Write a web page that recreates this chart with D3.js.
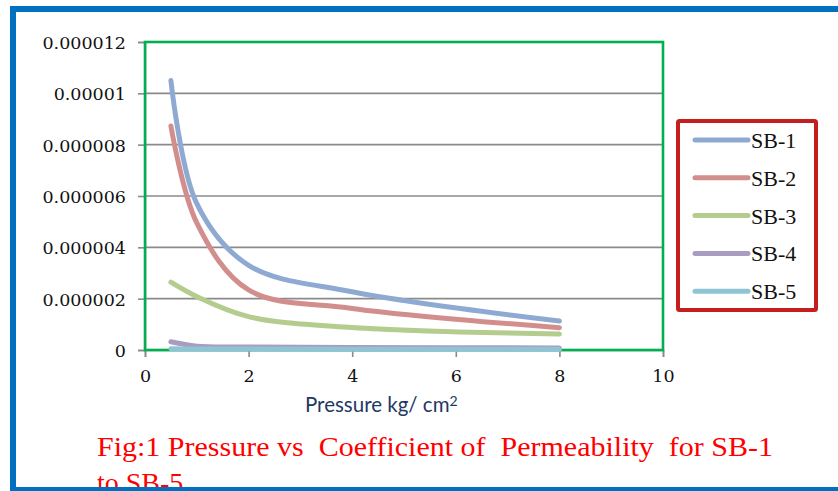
<!DOCTYPE html>
<html>
<head>
<meta charset="utf-8">
<script src="https://cdn.jsdelivr.net/npm/d3@7"></script>
<style>
    html, body { margin: 0; padding: 0; background: #ffffff; overflow: hidden; }
</style>
</head>
<body>
<div id="canvas"></div>
<script>
"use strict"

/* Chart data */
let pressure = [0.5, 1, 2, 4, 8];

let seriesNames = ["SB-1", "SB-2", "SB-3", "SB-4", "SB-5"];
let sb1 = [1.05e-5, 5.7e-6, 3.3e-6, 2.27e-6, 1.13e-6];
let sb2 = [8.73e-6, 4.95e-6, 2.34e-6, 1.62e-6, 0.87e-6];
let sb3 = [2.64e-6, 2.08e-6, 1.3e-6, 0.88e-6, 0.62e-6];
let sb4 = [0.32e-6, 0.15e-6, 0.12e-6, 0.1e-6, 0.08e-6];
let sb5 = [0.05e-6, 0.04e-6, 0.035e-6, 0.03e-6, 0.03e-6];

let xTicks = [0, 2, 4, 6, 8, 10];
let yTicks = [0, 0.000002, 0.000004, 0.000006, 0.000008, 0.00001, 0.000012];
let yTickLabels = ["0", "0.000002", "0.000004", "0.000006", "0.000008", "0.00001", "0.000012"];

let seriesColors = ["#8eaad2", "#d28e8c", "#b5cc8f", "#a99cc0", "#8ec4d4"];

/* Layout */
let svgWidth = 838;
let svgHeight = 491;

let plot = {
    left: 145,
    right: 663,
    top: 42,
    bottom: 350
};

let svg = d3.select("#canvas")
    .append("svg")
    .attr("width", svgWidth)
    .attr("height", svgHeight);

svg.append("rect")
    .attr("width", svgWidth)
    .attr("height", svgHeight)
    .attr("fill", "#ffffff");

let xScale = d3.scaleLinear()
    .domain([0, 10])
    .range([plot.left, plot.right]);

let yScale = d3.scaleLinear()
    .domain([0, 0.000012])
    .range([plot.bottom, plot.top]);

// horizontal gridlines
svg.append("g")
    .selectAll("line")
    .data(yTicks.slice(1))
    .join("line")
    .attr("x1", plot.left)
    .attr("x2", plot.right)
    .attr("y1", function(d) { return yScale(d); })
    .attr("y2", function(d) { return yScale(d); })
    .attr("stroke", "#8a8a8a")
    .attr("stroke-width", 1.6);

// Y axis (ticks to the left)
let yAxis = d3.axisLeft(yScale)
    .tickValues(yTicks)
    .tickSize(7)
    .tickPadding(12)
    .tickFormat(function(d, i) { return yTickLabels[i]; });

let yAxisG = svg.append("g")
    .attr("transform", "translate(" + plot.left + ",0)")
    .call(yAxis);

yAxisG.select(".domain").attr("stroke", "#8a8a8a").attr("stroke-width", 1.6);
yAxisG.selectAll(".tick line").attr("stroke", "#8a8a8a").attr("stroke-width", 1.6);
yAxisG.selectAll(".tick text")
    .attr("fill", "#111111")
    .attr("dy", "0.38em")
    .style("font-family", "'DejaVu Serif', serif")
    .style("font-size", "17.5px");

// X axis
let xAxis = d3.axisBottom(xScale)
    .tickValues(xTicks)
    .tickSize(7)
    .tickPadding(13)
    .tickFormat(d3.format("d"));

let xAxisG = svg.append("g")
    .attr("transform", "translate(0," + plot.bottom + ")")
    .call(xAxis);

xAxisG.select(".domain").attr("stroke", "#8a8a8a").attr("stroke-width", 1.6);
xAxisG.selectAll(".tick line").attr("stroke", "#8a8a8a").attr("stroke-width", 1.6);
xAxisG.selectAll(".tick text")
    .attr("fill", "#111111")
    .style("font-family", "'DejaVu Serif', serif")
    .style("font-size", "17.5px");

// green border round the plot area
svg.append("rect")
    .attr("x", plot.left)
    .attr("y", plot.top)
    .attr("width", plot.right - plot.left)
    .attr("height", plot.bottom - plot.top)
    .attr("fill", "none")
    .attr("stroke", "#00b050")
    .attr("stroke-width", 2.6);

// smoothed series lines
let allSeries = [sb1, sb2, sb3, sb4, sb5];

let lineGen = d3.line()
    .x(function(d, i) { return xScale(pressure[i]); })
    .y(function(d) { return yScale(d); })
    .curve(d3.curveCatmullRom.alpha(0.5));

for (let i = 0; i < allSeries.length; i++) {
    svg.append("path")
        .datum(allSeries[i])
        .attr("d", lineGen)
        .attr("fill", "none")
        .attr("stroke", seriesColors[i])
        .attr("stroke-width", 5)
        .attr("stroke-linecap", "round")
        .attr("stroke-linejoin", "round");
}

// legend box
let legendX = 678;
let legendY = 121;
let legendSpacing = 37.8;

svg.append("rect")
    .attr("x", legendX)
    .attr("y", legendY)
    .attr("width", 138)
    .attr("height", 189)
    .attr("fill", "#ffffff")
    .attr("stroke", "#c41e1e")
    .attr("stroke-width", 4)
    .attr("rx", 1.5);

for (let i = 0; i < seriesNames.length; i++) {
    let itemY = legendY + 19 + i * legendSpacing;

    svg.append("line")
        .attr("x1", legendX + 17)
        .attr("x2", legendX + 70)
        .attr("y1", itemY)
        .attr("y2", itemY)
        .attr("stroke", seriesColors[i])
        .attr("stroke-width", 5)
        .attr("stroke-linecap", "round");

    svg.append("text")
        .attr("x", legendX + 73)
        .attr("y", itemY)
        .attr("dy", "0.36em")
        .attr("fill", "#111111")
        .style("font-family", "'Liberation Serif', serif")
        .style("font-size", "22px")
        .text(seriesNames[i]);
}

// x axis title with superscript
let xTitle = svg.append("text")
    .attr("x", 305)
    .attr("y", 412)
    .attr("fill", "#1f3864")
    .style("font-family", "Lato, sans-serif")
    .style("font-size", "20.5px");

xTitle.append("tspan").text("Pressure kg/ cm");
xTitle.append("tspan")
    .attr("dy", "-0.45em")
    .style("font-size", "14px")
    .text("2");

// red figure caption
svg.append("text")
    .attr("x", 97)
    .attr("y", 456)
    .attr("fill", "#ff0000")
    .attr("textLength", 676)
    .attr("lengthAdjust", "spacingAndGlyphs")
    .style("font-family", "'Liberation Serif', serif")
    .style("font-size", "28px")
    .style("white-space", "pre")
    .text("Fig:1 Pressure vs  Coefficient of  Permeability  for SB-1");

svg.append("text")
    .attr("x", 97)
    .attr("y", 492)
    .attr("fill", "#ff0000")
    .style("font-family", "'Liberation Serif', serif")
    .style("font-size", "28px")
    .text("to SB-5");

// outer blue frame, drawn last so it sits over the caption
svg.append("rect")
    .attr("x", 13)
    .attr("y", 9)
    .attr("width", 900)
    .attr("height", 481)
    .attr("fill", "none")
    .attr("stroke", "#0070c0")
    .attr("stroke-width", 6);
</script>
</body>
</html>
